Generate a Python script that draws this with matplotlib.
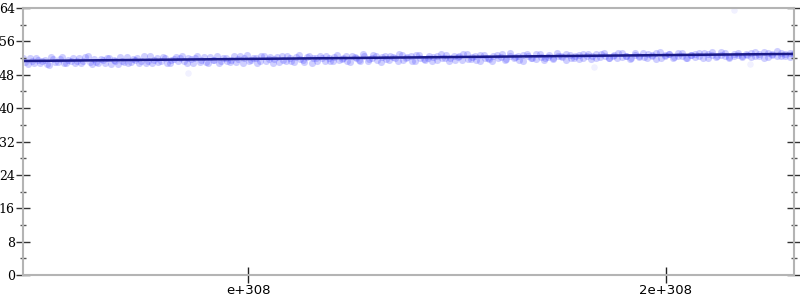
import numpy as np
import matplotlib
matplotlib.use('Agg')
import matplotlib.pyplot as plt
from matplotlib.ticker import FixedLocator, MultipleLocator

# x in units of 1e308
x_min, x_max = 0.462, 2.306
y_vals = [
    51.9, 50.6, 51.2, 52.1, 50.9, 51.5, 50.4, 51.8, 51.0, 52.3, 50.8, 51.4,
    50.7, 51.9, 51.3, 52.4, 50.6, 51.1, 51.7, 50.9, 52.0, 51.6, 50.5, 51.2,
    52.2, 51.0, 51.6, 50.8, 52.5, 51.3, 50.9, 51.9, 51.4, 52.1, 50.7, 51.8,
    51.2, 52.6, 50.9, 51.7, 52.0, 51.1, 52.3, 50.8, 51.6, 52.5, 51.3, 51.9,
    51.0, 52.4, 51.8, 50.9, 52.7, 51.5, 52.1, 51.2, 52.6, 51.7, 50.8, 52.2,
    52.5, 51.3, 52.0, 51.1, 52.8, 51.6, 52.3, 50.9, 51.9, 52.6, 51.4, 52.1,
    51.2, 52.7, 51.8, 52.4, 51.0, 52.2, 51.6, 52.9, 51.4, 52.0, 52.5, 51.1,
    52.6, 51.5, 52.3, 51.2, 52.8, 51.9, 52.4, 51.3, 52.7, 51.7, 52.1, 51.4,
    51.6, 52.9, 52.0, 51.3, 52.6, 52.2, 51.5, 53.0, 51.8, 52.4, 51.2, 52.7,
    52.1, 51.4, 52.8, 52.3, 51.6, 53.1, 51.9, 52.5, 51.3, 52.9, 52.0, 51.7,
    52.9, 51.6, 52.3, 51.9, 53.2, 52.5, 51.5, 52.8, 52.1, 51.8, 53.0, 52.4,
    51.7, 52.9, 52.3, 53.1, 51.9, 52.6, 52.0, 53.3, 52.4, 51.8, 52.8, 52.2,
    53.2, 52.1, 52.7, 51.8, 53.4, 52.4, 52.9, 52.0, 53.1, 52.5, 51.9, 52.8,
    52.3, 53.3, 52.0, 52.9, 53.5, 52.2, 52.7, 53.1, 51.9, 52.6, 53.3, 52.4,
    53.0, 52.2, 53.5, 52.6, 52.1, 53.3, 52.8, 53.6, 52.4, 53.0, 52.3, 53.2,
]
y_vals2 = [
    51.1, 52.0, 50.8, 51.6, 51.3, 50.5, 52.2, 51.0, 51.7, 50.7, 51.5, 52.0,
    51.4, 50.8, 52.3, 51.0, 51.8, 50.9, 51.5, 52.1, 50.6, 51.3, 52.2, 51.0,
    50.9, 51.7, 52.0, 51.2, 50.8, 52.4, 51.5, 51.0, 52.2, 50.9, 51.6, 52.3,
    52.1, 51.4, 51.9, 50.9, 52.4, 51.6, 51.0, 52.2, 51.5, 50.9, 52.0, 51.2,
    51.6, 51.1, 52.5, 51.9, 51.3, 52.0, 50.9, 52.4, 51.4, 52.2, 51.7, 51.0,
    51.5, 52.4, 51.2, 52.2, 51.7, 51.0, 52.6, 51.9, 51.3, 52.0, 52.5, 51.4,
    52.3, 51.5, 52.1, 51.3, 52.6, 51.9, 51.2, 52.4, 51.8, 52.7, 51.5, 52.2,
    51.7, 52.5, 51.9, 52.9, 51.6, 52.2, 51.4, 52.8, 52.0, 51.5, 52.6, 52.3,
    52.4, 51.9, 52.7, 52.1, 51.6, 52.5, 52.9, 51.8, 52.3, 51.5, 52.8, 52.0,
    51.8, 52.6, 52.0, 52.9, 51.7, 52.4, 52.2, 51.6, 52.8, 52.5, 51.9, 53.0,
    52.3, 52.0, 52.8, 51.7, 52.6, 52.2, 53.0, 51.9, 52.5, 52.7, 52.1, 52.9,
    52.5, 52.1, 53.0, 52.4, 51.9, 52.7, 53.2, 52.2, 52.6, 52.0, 53.1, 52.4,
    52.2, 52.9, 52.5, 53.2, 52.0, 52.7, 53.0, 52.3, 52.6, 53.3, 52.1, 52.8,
    52.9, 52.5, 53.2, 52.1, 52.8, 52.4, 53.4, 52.6, 52.3, 53.0, 52.7, 52.2,
    52.7, 53.3, 52.5, 52.9, 53.4, 52.2, 52.9, 52.6, 53.2, 52.4, 53.1, 52.8,
]
x_vals = np.linspace(x_min, x_max, len(y_vals))
x_vals2 = np.linspace(x_min + 0.005, x_max, len(y_vals2))
out_x = [0.857, 1.829, 2.201, 2.162]
out_y = [48.4, 49.9, 50.6, 63.5]
fit_x = [x_min, x_max]
fit_y = [51.3, 53.0]

fig = plt.figure(figsize=(8, 3), dpi=100)
ax = fig.add_axes([0.029, 0.0833, 0.9633, 0.89])

ax.scatter(x_vals, y_vals, s=26, color='#3a3aff', alpha=0.24, linewidths=0)
ax.scatter(x_vals2, y_vals2, s=26, color='#3a3aff', alpha=0.24, linewidths=0)
ax.scatter(out_x, out_y, s=22, color='#3a3aff', alpha=0.07, linewidths=0)
ax.plot(fit_x, fit_y, color='#1a1a88', lw=1.8)

ax.set_xlim(x_min, x_max)
ax.set_ylim(0, 64)
ax.xaxis.set_major_locator(FixedLocator([1, 2]))
ax.set_xticklabels(['e+308', '2e+308'], fontsize=9.5)
ax.yaxis.set_major_locator(MultipleLocator(8))
ax.yaxis.set_minor_locator(MultipleLocator(4))
for lab in ax.get_yticklabels():
    lab.set_fontfamily('DejaVu Serif')
    lab.set_fontsize(9)

for s in ax.spines.values():
    s.set_color('#b4b4b4')
    s.set_linewidth(1.5)
ax.tick_params(axis='y', which='major', direction='inout', length=10, width=1, color='#333333', left=True, right=True, pad=1)
ax.tick_params(axis='y', which='minor', direction='inout', length=5, width=1, color='#555555', left=True, right=True)
ax.tick_params(axis='x', which='major', direction='inout', length=11, width=1, color='#222222', top=False, pad=1)

fig.savefig('out.png', dpi=100)
